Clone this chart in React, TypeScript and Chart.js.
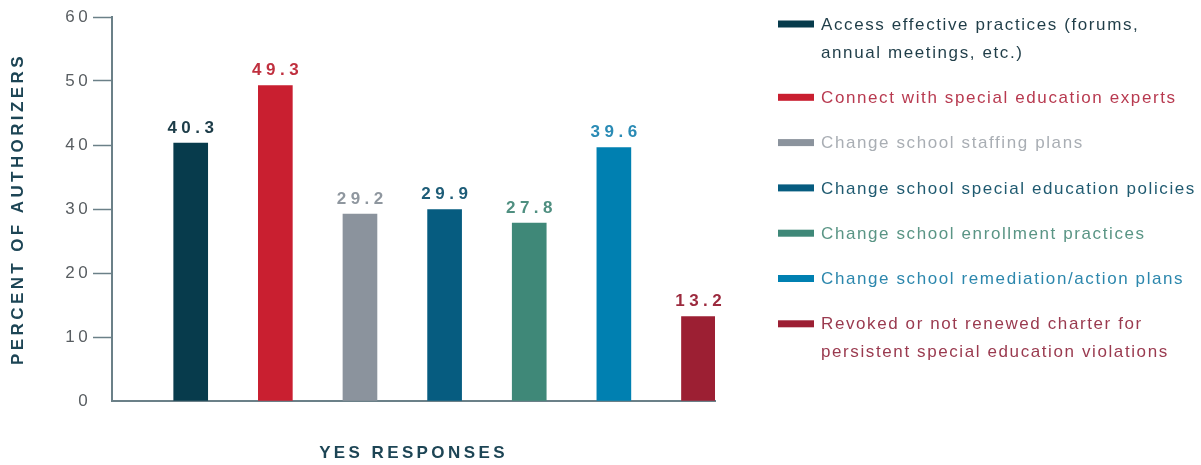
import React, { useEffect, useRef } from "react";
import { Chart, registerables } from "chart.js";

Chart.register(...registerables);

// ---- data ----
const categories: string[] = [
  "Access effective practices (forums,\nannual meetings, etc.)",
  "Connect with special education experts",
  "Change school staffing plans",
  "Change school special education policies",
  "Change school enrollment practices",
  "Change school remediation/action plans",
  "Revoked or not renewed charter for\npersistent special education violations",
];
const values: number[] = [40.3, 49.3, 29.2, 29.9, 27.8, 39.6, 13.2];
const yTickValues: number[] = [0, 10, 20, 30, 40, 50, 60];
const yTitle = "PERCENT OF AUTHORIZERS";
const xTitle = "YES RESPONSES";

// ---- styles ----
const barColors = ["#073b4c", "#c91f30", "#8b939d", "#065c80", "#3f8878", "#0080b1", "#9c1f33"];
const valueLabelColors = ["#1c3c48", "#c0303f", "#8f979f", "#1d5c77", "#4f8f80", "#2a8bb5", "#9c2a3e"];
const legendTextColors = ["#1f3d48", "#b83a50", "#a9aeb4", "#1f5a70", "#5a9585", "#2c87ad", "#9a3a4f"];
const axisColor = "#6b8088";
const titleColor = "#1d4555";
const FONT = '"Liberation Sans", Arial, sans-serif';

const spacingPlugin = {
  id: "letterSpacing",
  beforeDraw(chart: any) {
    (chart.ctx as any).letterSpacing = "3.4px";
  },
};

const valueLabelPlugin = {
  id: "valueLabels",
  afterDatasetsDraw(chart: any) {
    const ctx = chart.ctx;
    const meta = chart.getDatasetMeta(0);
    ctx.save();
    (ctx as any).letterSpacing = "4.5px";
    ctx.font = `bold 17px ${FONT}`;
    ctx.textAlign = "center";
    ctx.textBaseline = "middle";
    meta.data.forEach((bar: any, i: number) => {
      ctx.fillStyle = valueLabelColors[i];
      ctx.fillText(values[i].toFixed(1), bar.x + 2.25, bar.y - 15);
    });
    ctx.restore();
  },
};

const legendPlugin = {
  id: "sideLegend",
  afterDraw(chart: any) {
    const ctx = chart.ctx;
    ctx.save();
    (ctx as any).letterSpacing = "1.6px";
    ctx.font = `17px ${FONT}`;
    ctx.textAlign = "left";
    ctx.textBaseline = "middle";
    const boxX = chart.chartArea.right + 63;
    const textX = boxX + 43;
    let y = 25;
    categories.forEach((label, i) => {
      const lines = label.split("\n");
      ctx.fillStyle = barColors[i];
      ctx.fillRect(boxX, y - 4.5, 36, 7);
      ctx.fillStyle = legendTextColors[i];
      lines.forEach((line, j) => {
        ctx.fillText(line, textX, y + j * 28);
      });
      y += (lines.length - 1) * 28 + 45.3;
    });
    ctx.restore();
  },
};

export default function App() {
  const ref = useRef<HTMLCanvasElement>(null);

  useEffect(() => {
    document.body.style.margin = "0";
    const chart = new Chart(ref.current!, {
      type: "bar",
      data: {
        labels: categories,
        datasets: [
          {
            data: values.map((v, i) => ({ x: i, y: v })),
            backgroundColor: barColors,
            borderWidth: 0,
            barThickness: 34,
          },
        ],
      },
      options: {
        responsive: false,
        animation: false,
        layout: { padding: { top: 17, right: 486, bottom: 0, left: 0 } },
        plugins: {
          legend: { display: false },
          tooltip: { enabled: false },
        },
        scales: {
          x: {
            type: "linear",
            offset: false,
            min: -0.93,
            max: 6.195,
            grid: { display: false },
            ticks: { display: false },
            border: { display: true, color: axisColor, width: 2 },
            title: {
              display: true,
              text: xTitle,
              color: titleColor,
              font: { family: FONT, size: 17, weight: "bold" },
              padding: { top: 0, bottom: 1 },
            },
            afterFit(scale: any) {
              scale.height = 64;
            },
          },
          y: {
            min: 0,
            max: 60,
            afterBuildTicks(scale: any) {
              scale.ticks = yTickValues.map((v) => ({ value: v }));
            },
            grid: {
              drawOnChartArea: false,
              drawTicks: true,
              tickLength: 19,
              tickWidth: 1.5,
              tickColor: (c: any) => (c.tick && c.tick.value === 0 ? "rgba(0,0,0,0)" : axisColor),
            },
            border: { display: true, color: axisColor, width: 2 },
            ticks: {
              color: "#585d61",
              font: { family: FONT, size: 17 },
              padding: 2,
            },
            title: {
              display: true,
              text: yTitle,
              color: titleColor,
              font: { family: FONT, size: 17, weight: "bold" },
              padding: { top: 8, bottom: 0 },
            },
            afterFit(scale: any) {
              scale.width = 112;
            },
          },
        },
      },
      plugins: [spacingPlugin, valueLabelPlugin, legendPlugin],
    });
    return () => chart.destroy();
  }, []);

  return (
    <div style={{ width: 1201, height: 465 }}>
      <canvas ref={ref} width={1201} height={465} />
    </div>
  );
}
